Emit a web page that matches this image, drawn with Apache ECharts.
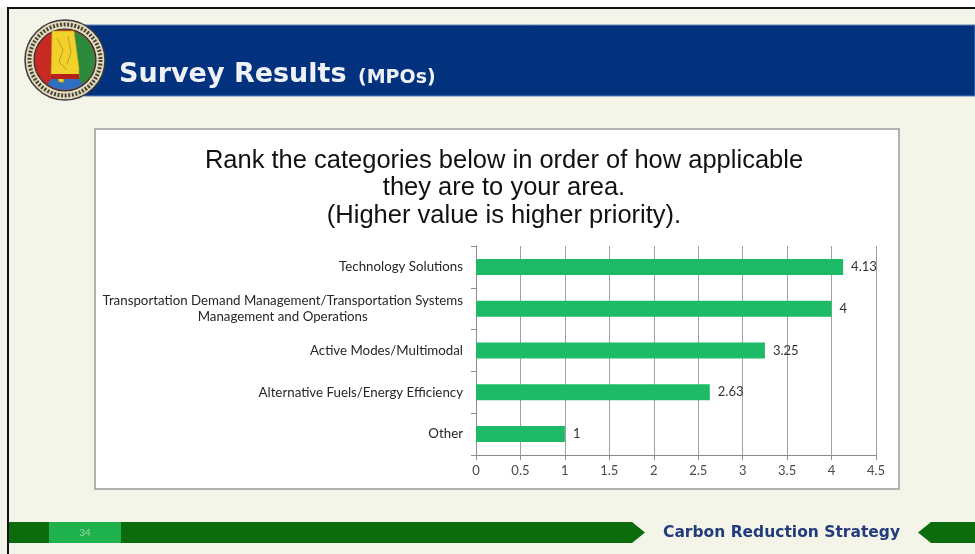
<!DOCTYPE html>
<html>
<head>
<meta charset="utf-8">
<title>Survey Results (MPOs)</title>
<script src="https://cdn.jsdelivr.net/npm/echarts@6/dist/echarts.min.js"></script>
<style>
  html, body { margin: 0; padding: 0; background: #f4f4e9; }
  #chart { width: 975px; height: 554px; }
</style>
</head>
<body>
<div id="chart"></div>
<script>
// Survey categories, ranked by MPO respondents (higher value = higher priority)
const categories = [
  'Technology Solutions',
  'Transportation Demand Management/Transportation Systems\nManagement and Operations',
  'Active Modes/Multimodal',
  'Alternative Fuels/Energy Efficiency',
  'Other'
];
const scores = [4.13, 4, 3.25, 2.63, 1];

// Value axis range and step
const axisMin = 0;
const axisMax = 4.5;
const axisStep = 0.5;

const chartTitle = 'Rank the categories below in order of how applicable\nthey are to your area.\n(Higher value is higher priority).';
const slideTitle = 'Survey Results';
const slideSubtitle = '(MPOs)';
const footerText = 'Carbon Reduction Strategy';
const pageNumber = '34';

const chart = echarts.init(document.getElementById('chart'), null, { renderer: 'canvas' });

// Seal in the top-left corner of the slide
function seal(cx, cy) {
  return [
    { type: 'circle', shape: { cx, cy, r: 40 }, style: { fill: '#e3dcc0', stroke: '#3a3a3a', lineWidth: 1.5 }, z: 10 },
    { type: 'circle', shape: { cx, cy, r: 35.5 }, style: { fill: 'none', stroke: '#4a4535', lineWidth: 4, lineDash: [2, 1.6] }, z: 11 },
    { type: 'circle', shape: { cx, cy, r: 31 }, style: { fill: '#c62a22', stroke: '#2c2c2c', lineWidth: 1.2 }, z: 12 },
    { type: 'sector', shape: { cx, cy, r: 30, r0: 0, startAngle: -Math.PI * 0.42, endAngle: Math.PI * 0.40 }, style: { fill: '#2c8a3c' }, z: 13 },
    { type: 'sector', shape: { cx, cy, r: 30, r0: 0, startAngle: Math.PI * 0.30, endAngle: Math.PI * 0.70 }, style: { fill: '#2f6fc0' }, z: 13 },
    { type: 'polygon', shape: { points: [
        [cx - 13, cy - 29], [cx + 9, cy - 29], [cx + 14, cy + 8], [cx + 14, cy + 17],
        [cx - 2, cy + 17], [cx - 1, cy + 22], [cx - 6, cy + 22], [cx - 8, cy + 15], [cx - 14, cy + 15]
      ] }, style: { fill: '#f2d12a', stroke: '#b89a18', lineWidth: 0.6 }, z: 14 },
    { type: 'polyline', shape: { points: [[cx - 8, cy - 22], [cx - 2, cy - 10], [cx - 6, cy + 2], [cx + 2, cy + 10]] }, style: { stroke: '#b0951e', lineWidth: 0.8, fill: 'none' }, z: 15 },
    { type: 'polyline', shape: { points: [[cx + 3, cy - 24], [cx + 6, cy - 8], [cx + 2, cy + 4]] }, style: { stroke: '#b0951e', lineWidth: 0.8, fill: 'none' }, z: 15 },
    { type: 'rect', shape: { x: cx - 14, y: cy + 14, width: 28, height: 5 }, style: { fill: '#b8201c' }, z: 15 }
  ];
}

const graphics = [
  // slide frame
  { type: 'rect', shape: { x: 0, y: 0, width: 975, height: 7 }, style: { fill: '#ffffff' }, z: 1 },
  { type: 'rect', shape: { x: 7, y: 7, width: 968, height: 2 }, style: { fill: '#111111' }, z: 2 },
  { type: 'rect', shape: { x: 7, y: 7, width: 2, height: 547 }, style: { fill: '#111111' }, z: 2 },
  // header banner
  { type: 'rect', shape: { x: 84, y: 25, width: 891, height: 71 }, style: { fill: '#02327e', stroke: '#5f7fb8', lineWidth: 1 }, z: 3 },
  { type: 'text', x: 119, y: 88, style: { text: slideTitle, fill: '#eef1f5', font: 'bold 27px "DejaVu Sans"', textVerticalAlign: 'bottom' }, z: 4 },
  { type: 'text', x: 358, y: 88, style: { text: slideSubtitle, fill: '#eef1f5', font: 'bold 19px "DejaVu Sans"', textVerticalAlign: 'bottom' }, z: 4 },
  ...seal(65, 60),
  // chart panel
  { type: 'rect', shape: { x: 95, y: 129, width: 804, height: 360 }, style: { fill: '#ffffff', stroke: '#9a9a9a', lineWidth: 1.5 }, z: -10 },
  // footer band
  { type: 'polygon', shape: { points: [[9, 522], [632, 522], [645, 532.5], [632, 543], [9, 543]] }, style: { fill: '#0b6c0e' }, z: 3 },
  { type: 'rect', shape: { x: 49, y: 522, width: 72, height: 21 }, style: { fill: '#1fb14b' }, z: 4 },
  { type: 'text', x: 85, y: 533, style: { text: pageNumber, fill: '#93d9a6', font: '10px Lato', textAlign: 'center', textVerticalAlign: 'middle' }, z: 5 },
  { type: 'text', x: 663, y: 533, style: { text: footerText, fill: '#223c7c', font: 'bold 15.5px "DejaVu Sans"', textVerticalAlign: 'middle' }, z: 5 },
  { type: 'polygon', shape: { points: [[918, 532.5], [931, 522], [975, 522], [975, 543], [931, 543]] }, style: { fill: '#0b6c0e' }, z: 3 }
];

chart.setOption({
  backgroundColor: '#f4f4e9',
  animation: false,
  title: {
    text: chartTitle,
    left: 499,
    top: 142,
    textAlign: 'center',
    textStyle: {
      fontFamily: 'Liberation Sans',
      fontSize: 25.5,
      fontWeight: 'normal',
      color: '#111111',
      lineHeight: 27.5
    }
  },
  graphic: graphics,
  grid: { left: 476, top: 246, width: 400, height: 209, containLabel: false },
  xAxis: {
    type: 'value',
    min: axisMin,
    max: axisMax,
    interval: axisStep,
    axisLine: { show: true, lineStyle: { color: '#8c8c8c', width: 1 } },
    axisTick: { show: true, length: 5, lineStyle: { color: '#8c8c8c' } },
    splitLine: { show: true, lineStyle: { color: '#a0a0a0', width: 1 } },
    axisLabel: { fontFamily: 'Lato', fontSize: 13, color: '#4a4a4a', margin: 9 }
  },
  yAxis: {
    type: 'category',
    data: categories,
    inverse: true,
    axisLine: { show: true, lineStyle: { color: '#8c8c8c', width: 1 } },
    axisTick: { show: true, length: 5, alignWithLabel: false, lineStyle: { color: '#8c8c8c' } },
    splitLine: { show: false },
    axisLabel: {
      fontFamily: 'Lato',
      fontSize: 13.3,
      color: '#262626',
      margin: 13,
      lineHeight: 16,
      formatter: (v) => v.split('\n').map((s) => '{c|' + s + '}').join('\n'),
      rich: { c: { align: 'center', fontFamily: 'Lato', fontSize: 13.3, color: '#262626', lineHeight: 16 } }
    }
  },
  series: [{
    type: 'bar',
    data: scores,
    barWidth: 16,
    itemStyle: { color: '#1dbb68' },
    label: {
      show: true,
      position: 'right',
      distance: 8,
      fontFamily: 'Lato',
      fontSize: 13,
      color: '#333333'
    }
  }]
});
</script>
</body>
</html>
